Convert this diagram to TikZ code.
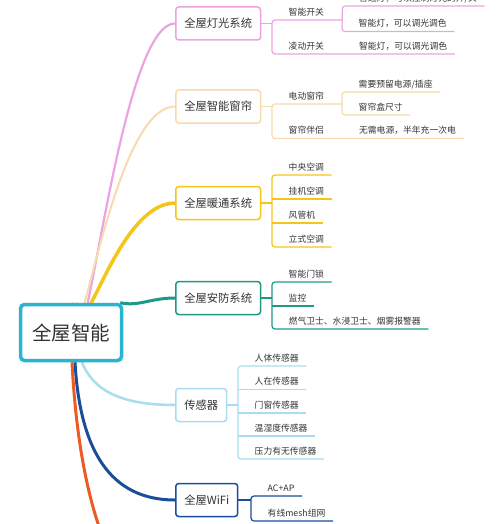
\documentclass[tikz,border=0pt]{standalone}
\usepackage{fontspec}
\newfontfamily\cjk{Noto Sans CJK SC}
\usetikzlibrary{backgrounds}
\definecolor{txt}{HTML}{333333}
\definecolor{cpink}{HTML}{EBA3E2}
\definecolor{cbeige}{HTML}{F7DAAE}
\definecolor{cgold}{HTML}{F5C518}
\definecolor{cteal}{HTML}{1E9985}
\definecolor{clblue}{HTML}{A9DCF0}
\definecolor{cdblue}{HTML}{1A4D9A}
\definecolor{corange}{HTML}{EC5B25}
\definecolor{ccyan}{HTML}{2BB4D0}
\newcommand{\leafT}[1]{\hspace*{16.5pt}#1\hspace*{7.5pt}}
\newcommand{\leafW}[1]{\hspace*{16.5pt}\makebox[53.5pt][l]{#1}}
\begin{document}
\begin{tikzpicture}[x=1pt,y=-1pt,
  rootbox/.style={draw=ccyan, line width=3.5pt, rounded corners=4pt, fill=white,
    minimum width=101pt, minimum height=56pt, text=txt,
    font=\cjk\fontsize{19.5}{22}\selectfont},
  branch/.style={draw, rounded corners=3pt, line width=1.5pt, fill=white,
    minimum height=33pt, inner xsep=8.5pt, anchor=west, text=txt,
    font=\cjk\fontsize{11.3}{13}\selectfont},
  leaf/.style={anchor=south west, inner xsep=0pt, inner ysep=1.5pt,
    text height=8pt, text depth=3pt, text=txt,
    font=\cjk\fontsize{8.8}{10}\selectfont},
  sub/.style={line width=1.2pt},
  brk/.style={line width=1.2pt, rounded corners=3pt}]
\useasboundingbox (0,0) rectangle (500,524);
\clip (0,0) rectangle (500,524);

% root
\node[rootbox] (root) at (71,332.5) {全屋智能};

% branches
\node[branch, draw=cpink]  (b1) at (175,23.5) {全屋灯光系统};
\node[branch, draw=cbeige] (b2) at (175,106.5) {全屋智能窗帘};
\node[branch, draw=cgold]  (b3) at (175,203) {全屋暖通系统};
\node[branch, draw=cteal]  (b4) at (175,298) {全屋安防系统};
\node[branch, draw=clblue] (b5) at (175,405) {传感器};
\node[branch, draw=cdblue] (b6) at (175,500) {全屋WiFi};

% group 1
\node[leaf] (c11) at (272,20) {\leafW{智能开关}};
\node[leaf] (c12) at (272,54) {\leafW{凌动开关}};
\node[leaf] (g111) at (c11.south east) [yshift=14pt] {\leafT{普通灯，可以控制灯光的开/关}};
\node[leaf] (g112) at (342,31.5) {\leafT{智能灯，可以调光调色}};
\node[leaf] (g121) at (c12.south east) {\leafT{智能灯，可以调光调色}};

% group 2
\node[leaf] (c21) at (272,104) {\leafW{电动窗帘}};
\node[leaf] (c22) at (272,138.5) {\leafW{窗帘伴侣}};
\node[leaf] (g211) at (342,92) {\leafT{需要预留电源/插座}};
\node[leaf] (g212) at (342,115) {\leafT{窗帘盒尺寸}};
\node[leaf] (g221) at (c22.south east) {\leafT{无需电源，半年充一次电}};

% group 3
\node[leaf] (c31) at (272,175) {\leafT{中央空调}};
\node[leaf] (c32) at (272,199) {\leafT{挂机空调}};
\node[leaf] (c33) at (272,223) {\leafT{风管机}};
\node[leaf] (c34) at (272,247) {\leafT{立式空调}};

% group 4
\node[leaf] (c41) at (272,282) {\leafT{智能门锁}};
\node[leaf] (c42) at (272,306) {\leafT{监控}};
\node[leaf] (c43) at (272,329) {\leafT{燃气卫士、水浸卫士、烟雾报警器}};

% group 5
\node[leaf] (c51) at (238,366) {\leafT{人体传感器}};
\node[leaf] (c52) at (238,389.5) {\leafT{人在传感器}};
\node[leaf] (c53) at (238,413) {\leafT{门窗传感器}};
\node[leaf] (c54) at (238,436) {\leafT{温湿度传感器}};
\node[leaf] (c55) at (238,459) {\leafT{压力有无传感器}};

% group 6
\node[leaf] (c61) at (251,496) {\leafT{AC+AP}};
\node[leaf] (c62) at (251,521) {\leafT{有线mesh组网}};

\begin{scope}[on background layer]
% main curves
\draw[cpink, line width=2.2pt] ([xshift=1pt]root.north) .. controls ([xshift=9pt,yshift=-150pt]root.north) and ([xshift=-60pt]b1.west) .. (b1.west);
\draw[cbeige, line width=2pt] ([xshift=2pt]root.north) .. controls ([xshift=5pt,yshift=-100pt]root.north) and ([xshift=-65pt]b2.west) .. (b2.west);
\draw[cgold, line width=3.5pt] ([xshift=5pt]root.north) .. controls ([xshift=9pt,yshift=-63pt]root.north) and ([xshift=-60pt]b3.west) .. (b3.west);
\draw[cteal, line width=3pt] ([xshift=-3pt]root.north east) .. controls ([xshift=16pt,yshift=-4pt]root.north east) and ([xshift=-25pt]b4.west) .. (b4.west);
\draw[clblue, line width=2.5pt] ([xshift=11pt]root.south) .. controls ([xshift=24pt,yshift=-33pt]root.south) and ([xshift=-45pt]b5.west) .. (b5.west);
\draw[cdblue, line width=3pt] ([xshift=4pt]root.south) .. controls ([xshift=9pt,yshift=-88pt]root.south) and ([xshift=-65pt]b6.west) .. (b6.west);
\coordinate (oend) at (104,540);
\draw[corange, line width=3pt] ([xshift=1pt]root.south) .. controls ([xshift=5pt,yshift=-78pt]root.south) and ([xshift=-16pt,yshift=40pt]oend) .. (oend);

% group 1 lines
\draw[cpink, sub] (b1.east) -- (b1.east -| c11.south west);
\draw[cpink, brk] (c11.south east) -- (c11.south west) -- (c12.south west) -- (g121.south east);
\draw[cpink, brk] (g111.south east) -- (g111.south west) -- (g112.south west) -- (g112.south east);

% group 2 lines
\draw[cbeige, sub] (b2.east) -- (b2.east -| c21.south west);
\draw[cbeige, brk] (c21.south east) -- (c21.south west) -- (c22.south west) -- (g221.south east);
\draw[cbeige, brk] (g211.south east) -- (g211.south west) -- (g212.south west) -- (g212.south east);

% group 3 lines
\draw[cgold, sub] (b3.east) -- (b3.east -| c31.south west);
\draw[cgold, brk] (c31.south east) -- (c31.south west) -- (c34.south west) -- (c34.south east);
\draw[cgold, sub] (c32.south west) -- (c32.south east);
\draw[cgold, sub] (c33.south west) -- (c33.south east);

% group 4 lines
\draw[cteal, sub] (b4.east) -- (b4.east -| c41.south west);
\draw[cteal, brk] (c41.south east) -- (c41.south west) -- (c43.south west) -- (c43.south east);
\draw[cteal, sub] (c42.south west) -- (c42.south east);

% group 5 lines
\draw[clblue, sub] (b5.east) -- (b5.east -| c51.south west);
\draw[clblue, brk] (c51.south east) -- (c51.south west) -- (c55.south west) -- (c55.south east);
\draw[clblue, sub] (c52.south west) -- (c52.south east);
\draw[clblue, sub] (c53.south west) -- (c53.south east);
\draw[clblue, sub] (c54.south west) -- (c54.south east);

% group 6 lines
\draw[cdblue, sub] (b6.east) -- (b6.east -| c61.south west);
\draw[cdblue, brk] (c61.south east) -- (c61.south west) -- (c62.south west) -- (c62.south east);
\end{scope}
\end{tikzpicture}
\end{document}
